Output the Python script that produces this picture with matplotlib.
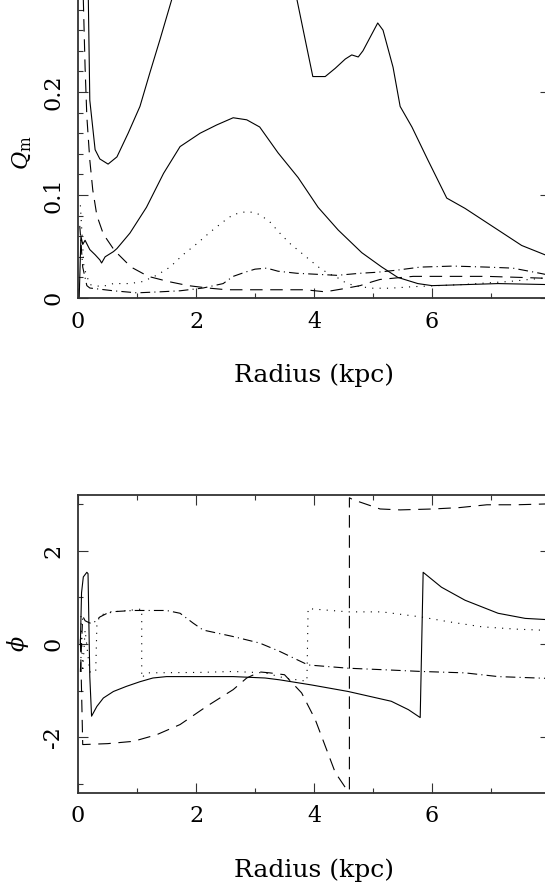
import matplotlib
matplotlib.use("Agg")
import matplotlib.pyplot as plt
from matplotlib.ticker import MultipleLocator, FixedLocator

# --- Q_m amplitudes (top panel) ---
q_solid_hi_r = [0.04, 0.1, 0.175, 0.2, 0.29, 0.37, 0.51, 0.66, 0.85, 1.05, 1.22, 1.39, 1.59,
                2.0, 2.6, 3.2, 3.71, 3.85, 3.98, 4.19, 4.36, 4.53, 4.64, 4.75, 4.83, 5.08,
                5.17, 5.34, 5.46, 5.66, 5.93, 6.25, 6.56, 7.12, 7.52, 8.0]
q_solid_hi = [0.9, 0.45, 0.29, 0.192, 0.144, 0.135, 0.130, 0.137, 0.160, 0.186, 0.219, 0.251, 0.29,
              0.36, 0.40, 0.37, 0.29, 0.251, 0.215, 0.215, 0.223, 0.232, 0.236, 0.234, 0.240, 0.267,
              0.260, 0.224, 0.186, 0.166, 0.134, 0.097, 0.087, 0.066, 0.051, 0.040]

q_solid_lo_r = [0.02, 0.05, 0.08, 0.12, 0.2, 0.29, 0.37, 0.4, 0.46, 0.6, 0.66, 0.88, 1.16, 1.45,
                1.73, 2.07, 2.35, 2.63, 2.86, 3.08, 3.39, 3.73, 4.07, 4.41, 4.81, 5.15, 5.42,
                5.76, 6.0, 6.56, 7.12, 8.0]
q_solid_lo = [0.0, 0.06, 0.052, 0.056, 0.047, 0.042, 0.037, 0.034, 0.040, 0.045, 0.048, 0.063, 0.088,
              0.121, 0.147, 0.160, 0.168, 0.175, 0.173, 0.166, 0.141, 0.117, 0.088, 0.066, 0.044,
              0.030, 0.020, 0.014, 0.012, 0.013, 0.014, 0.013]

q_dash_r = [0.06, 0.09, 0.12, 0.15, 0.2, 0.25, 0.32, 0.43, 0.62, 0.9, 1.19, 1.53, 1.87, 2.2, 2.52,
            3.0, 3.5, 3.85, 4.19, 4.5, 4.78, 5.0, 5.12, 5.68, 6.36, 6.93, 7.49, 8.0]
q_dash = [0.6, 0.29, 0.224, 0.176, 0.134, 0.105, 0.080, 0.062, 0.046, 0.030, 0.021, 0.016, 0.012,
          0.0097, 0.008, 0.008, 0.008, 0.008, 0.006, 0.009, 0.012, 0.016, 0.018, 0.021, 0.021,
          0.021, 0.020, 0.019]

q_dot_r = [0.04, 0.1, 0.2, 0.4, 0.6, 0.88, 1.1, 1.33, 1.56, 1.78, 2.02, 2.24, 2.46, 2.63, 2.86,
           2.97, 3.08, 3.25, 3.42, 3.59, 3.76, 3.97, 4.1, 4.24, 4.39, 4.56, 4.78, 5.0, 5.29,
           5.68, 6.5, 7.3, 8.0]
q_dot = [0.09, 0.03, 0.013, 0.011, 0.014, 0.014, 0.016, 0.022, 0.030, 0.042, 0.053, 0.064, 0.074,
         0.081, 0.084, 0.083, 0.081, 0.074, 0.063, 0.053, 0.045, 0.035, 0.029, 0.024, 0.020,
         0.014, 0.011, 0.0095, 0.0095, 0.011, 0.013, 0.016, 0.020]

q_dashdot_r = [0.03, 0.08, 0.15, 0.2, 0.6, 1.0, 1.39, 1.73, 2.12, 2.46, 2.63, 2.83, 3.0, 3.2, 3.39,
               3.71, 4.05, 4.39, 4.78, 5.07, 5.4, 5.8, 6.36, 6.93, 7.37, 7.83, 8.0]
q_dashdot = [0.07, 0.03, 0.012, 0.0097, 0.007, 0.005, 0.006, 0.007, 0.0097, 0.014, 0.021, 0.025,
             0.028, 0.029, 0.026, 0.024, 0.023, 0.022, 0.024, 0.025, 0.027, 0.030, 0.031, 0.030,
             0.029, 0.024, 0.022]

# --- phases (bottom panel) ---
phi_solid_r = [0.04, 0.06, 0.09, 0.15, 0.17, 0.2, 0.23, 0.32, 0.43, 0.6, 0.82, 1.05, 1.27, 1.5,
               1.73, 2.63, 3.17, 3.42, 3.96, 4.58, 5.31, 5.6, 5.8, 5.85, 6.16, 6.56, 7.12, 7.58, 8.0]
phi_solid = [0.0, 1.1, 1.44, 1.54, 1.51, -0.7, -1.55, -1.34, -1.16, -1.02, -0.91, -0.81, -0.73,
             -0.70, -0.70, -0.70, -0.73, -0.77, -0.88, -1.02, -1.23, -1.41, -1.58, 1.54, 1.22,
             0.94, 0.66, 0.55, 0.52]

phi_dash_r = [0.04, 0.06, 0.08, 0.5, 0.94, 1.33, 1.73, 2.18, 2.63, 2.86, 3.08, 3.25, 3.5, 3.79,
              4.02, 4.19, 4.36, 4.53, 4.6, 4.6, 4.66, 4.89, 5.12, 5.46, 6.02, 6.47, 6.93, 7.43, 8.0]
phi_dash = [0.1, -1.0, -2.16, -2.14, -2.09, -1.95, -1.73, -1.34, -0.98, -0.73, -0.60, -0.62, -0.66,
            -1.05, -1.62, -2.19, -2.76, -3.08, -3.16, 3.14, 3.10, 3.00, 2.90, 2.88, 2.90, 2.93,
            2.99, 2.99, 3.01]

phi_dot_r = [0.05, 0.08, 0.12, 0.2, 0.3, 0.32, 0.37, 0.6, 1.08, 1.08, 1.16, 2.07, 2.63, 3.17, 3.5,
             3.88, 3.9, 4.58, 5.15, 5.82, 6.27, 6.84, 7.41, 8.0]
phi_dot = [0.6, -0.6, 0.3, -0.6, -0.6, 0.4, 0.62, 0.69, 0.75, -0.73, -0.62, -0.61, -0.59, -0.62,
           -0.73, -0.80, 0.76, 0.69, 0.69, 0.58, 0.48, 0.37, 0.32, 0.29]

phi_dashdot_r = [0.04, 0.08, 0.12, 0.2, 0.26, 0.37, 0.54, 0.94, 1.5, 1.73, 1.95, 2.12, 2.63, 3.08,
                 3.42, 3.9, 4.58, 5.31, 5.82, 6.56, 7.12, 8.0]
phi_dashdot = [-0.6, 0.6, 0.5, 0.45, 0.45, 0.58, 0.69, 0.72, 0.72, 0.66, 0.45, 0.30, 0.16, 0.02,
               -0.16, -0.45, -0.52, -0.56, -0.59, -0.62, -0.70, -0.74]

# Line styles (PGPLOT-like)
plt.rcParams['lines.scale_dashes'] = False
plt.rcParams['axes.unicode_minus'] = False
plt.rcParams['font.family'] = 'DejaVu Serif'
plt.rcParams['mathtext.fontset'] = 'dejavuserif'
LS_DASH = (0, (9, 5.5))
LS_DOT = (0, (0.8, 4.5))
LS_DASHDOT = (0, (7, 3, 0.8, 3))
LW = 0.8
FS = 16
W, H = 545, 885

fig = plt.figure(figsize=(W / 100, H / 100), dpi=100)
ax1 = fig.add_axes([78 / W, (H - 298) / H, 472 / W, 309 / H])
ax2 = fig.add_axes([78 / W, (H - 793) / H, 472 / W, 298 / H])


def style_axes(ax):
    for sp in ax.spines.values():
        sp.set_linewidth(1.3)
        sp.set_color('#333333')
    ax.tick_params(which='both', direction='in', top=True, right=True,
                   color='#333333', width=0.8, labelsize=FS)
    ax.tick_params(which='major', length=7)
    ax.tick_params(which='minor', length=3.5)
    ax.tick_params(axis='x', pad=9)
    ax.tick_params(axis='y', pad=10, labelrotation=90)
    for lab in ax.get_yticklabels():
        lab.set_va('center')
    ax.set_xlim(0, 8)
    ax.xaxis.set_major_locator(FixedLocator([0, 2, 4, 6]))
    ax.xaxis.set_minor_locator(MultipleLocator(1))
    ax.set_xlabel('Radius (kpc)', fontsize=18, va='center')


# Top panel
ax1.plot(q_solid_hi_r, q_solid_hi, color='k', lw=LW)
ax1.plot(q_solid_lo_r, q_solid_lo, color='k', lw=LW)
ax1.plot(q_dash_r, q_dash, color='k', lw=LW, linestyle=LS_DASH)
ax1.plot(q_dot_r, q_dot, color='k', lw=LW, linestyle=LS_DOT)
ax1.plot(q_dashdot_r, q_dashdot, color='k', lw=LW, linestyle=LS_DASHDOT)
ax1.set_ylim(0, 0.3)
ax1.yaxis.set_major_locator(FixedLocator([0, 0.1, 0.2]))
ax1.yaxis.set_minor_locator(MultipleLocator(0.02))
ax1.set_yticklabels(['0', '0.1', '0.2'])
style_axes(ax1)
ax1.set_ylabel(r'$Q_{\rm m}$', fontsize=FS, va='center')
ax1.yaxis.set_label_coords(-0.118, 0.47)
ax1.xaxis.set_label_coords(0.5, -0.25)

# Bottom panel
ax2.plot(phi_solid_r, phi_solid, color='k', lw=LW)
ax2.plot(phi_dash_r, phi_dash, color='k', lw=LW, linestyle=LS_DASH)
ax2.plot(phi_dot_r, phi_dot, color='k', lw=LW, linestyle=LS_DOT)
ax2.plot(phi_dashdot_r, phi_dashdot, color='k', lw=LW, linestyle=LS_DASHDOT)
ax2.set_ylim(-3.2, 3.2)
ax2.yaxis.set_major_locator(FixedLocator([-2, 0, 2]))
ax2.yaxis.set_minor_locator(MultipleLocator(1))
style_axes(ax2)
ax2.set_ylabel(r'$\phi$', fontsize=FS, va='center')
ax2.yaxis.set_label_coords(-0.128, 0.5)
ax2.xaxis.set_label_coords(0.5, -0.26)

fig.savefig('out.png', dpi=100)
